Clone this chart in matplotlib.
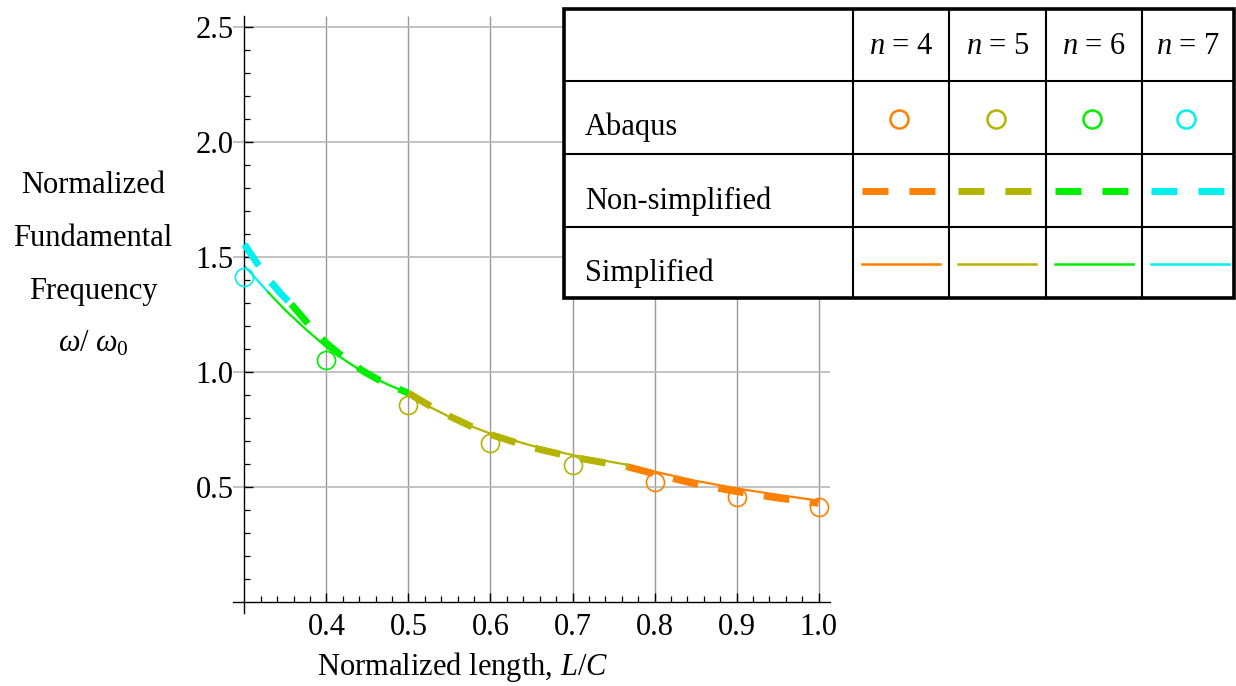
import matplotlib
matplotlib.use('Agg')
import matplotlib.pyplot as plt
from matplotlib.patches import Rectangle

plt.rcParams['font.family'] = ['Liberation Serif', 'DejaVu Serif']
plt.rcParams['mathtext.fontset'] = 'custom'
plt.rcParams['mathtext.rm'] = 'Liberation Serif'
plt.rcParams['mathtext.it'] = 'Liberation Serif:italic'
plt.rcParams['lines.scale_dashes'] = False

# ---------------- data ----------------
modes = [4, 5, 6, 7]
mode_colors = ['#FF8000', '#B3B300', '#00EE00', '#00F0F0']

abaqus_L = [0.3, 0.4, 0.5, 0.6, 0.7, 0.8, 0.9, 1.0]
abaqus_w = [1.414, 1.052, 0.857, 0.690, 0.596, 0.523, 0.455, 0.412]
abaqus_n = [7, 6, 5, 5, 5, 4, 4, 4]

# Simplified model (thin solid), one piece per governing n
simp_L_n7 = [0.300, 0.315, 0.329]
simp_w_n7 = [1.461, 1.402, 1.346]
simp_L_n6 = [0.329, 0.350, 0.375, 0.400, 0.425, 0.450, 0.475, 0.497]
simp_w_n6 = [1.346, 1.268, 1.185, 1.108, 1.045, 0.988, 0.945, 0.912]
simp_L_n5 = [0.497, 0.525, 0.550, 0.575, 0.600, 0.650, 0.700, 0.768]
simp_w_n5 = [0.912, 0.850, 0.805, 0.766, 0.732, 0.680, 0.639, 0.596]
simp_L_n4 = [0.768, 0.800, 0.850, 0.900, 0.950, 1.000]
simp_w_n4 = [0.596, 0.567, 0.527, 0.494, 0.466, 0.441]

# Non-simplified model (thick dashed)
ns_L_n7 = [0.300, 0.315, 0.330, 0.345, 0.357]
ns_w_n7 = [1.555, 1.475, 1.400, 1.338, 1.295]
ns_L_n6 = [0.357, 0.380, 0.400, 0.420, 0.445, 0.470, 0.500]
ns_w_n6 = [1.295, 1.200, 1.125, 1.066, 1.003, 0.953, 0.908]
ns_L_n5 = [0.500, 0.525, 0.550, 0.575, 0.600, 0.650, 0.700, 0.768]
ns_w_n5 = [0.908, 0.855, 0.808, 0.766, 0.728, 0.672, 0.630, 0.587]
ns_L_n4 = [0.768, 0.800, 0.850, 0.900, 0.950, 1.000]
ns_w_n4 = [0.587, 0.557, 0.513, 0.480, 0.452, 0.429]

x_major = [0.4, 0.5, 0.6, 0.7, 0.8, 0.9, 1.0]
x_major_labels = ['0.4', '0.5', '0.6', '0.7', '0.8', '0.9', '1.0']
y_major = [0.5, 1.0, 1.5, 2.0, 2.5]
y_major_labels = ['0.5', '1.0', '1.5', '2.0', '2.5']

row_labels = ['Abaqus', 'Non-simplified', 'Simplified']
ylabel_lines = ['Normalized', 'Fundamental', 'Frequency', r'$\omega/\ \omega_0$']

# ---------------- figure ----------------
W, H = 1236, 686
fig = plt.figure(figsize=(W / 100, H / 100), dpi=100)
ax = fig.add_axes([233 / W, 1 - 613 / H, (830 - 233) / W, (613 - 16) / H])
ax.set_xlim(0.28598, 1.01402)
ax.set_ylim(-0.0478, 2.5478)

color_of = dict(zip(modes, mode_colors))

# grid
ax.vlines(x_major, 0, ax.get_ylim()[1], colors='#999999', lw=1.0, zorder=0)
ax.hlines(y_major, *ax.get_xlim(), colors='#b8b8b8', lw=1.2, zorder=0)

# axes crossing at (0.3, 0)
for s in ['top', 'right']:
    ax.spines[s].set_visible(False)
ax.spines['left'].set_position(('data', 0.3))
ax.spines['bottom'].set_position(('data', 0.0))
for s in ['left', 'bottom']:
    ax.spines[s].set_linewidth(1.0)

ax.set_xticks(x_major)
ax.set_xticklabels(x_major_labels)
ax.set_yticks(y_major)
ax.set_yticklabels(y_major_labels)
ax.set_xticks([round(0.32 + 0.02 * i, 2) for i in range(34) if round(0.32 + 0.02 * i, 2) not in x_major], minor=True)
ax.set_yticks([round(0.1 * i, 1) for i in range(1, 25) if round(0.1 * i, 1) not in y_major], minor=True)
ax.tick_params(which='major', direction='in', length=6.5, width=1.0, labelsize=22, pad=8)
ax.tick_params(which='minor', direction='in', length=4, width=0.9)

# simplified curves
simp = [(simp_L_n7, simp_w_n7, 7), (simp_L_n6, simp_w_n6, 6),
        (simp_L_n5, simp_w_n5, 5), (simp_L_n4, simp_w_n4, 4)]
for L, w, n in simp:
    ax.plot(L, w, color=color_of[n], lw=1.6, zorder=2)

# non-simplified curves
nons = [(ns_L_n7, ns_w_n7, 7), (ns_L_n6, ns_w_n6, 6),
        (ns_L_n5, ns_w_n5, 5), (ns_L_n4, ns_w_n4, 4)]
for L, w, n in nons:
    ax.plot(L, w, color=color_of[n], lw=5, dashes=(18.5, 14.8),
            dash_capstyle='butt', zorder=3)

# Abaqus points
for L, w, n in zip(abaqus_L, abaqus_w, abaqus_n):
    ax.plot([L], [w], 'o', mfc='none', mec=color_of[n], ms=13, mew=1.2,
            zorder=4, clip_on=False)

# axis labels
fig.text(463 / W, 1 - 675 / H, 'Normalized length, $L/C$', ha='center',
         va='baseline', fontsize=22)
for i, t in enumerate(ylabel_lines):
    fig.text(93 / W, 1 - (193 + 53 * i) / H, t, ha='center', va='baseline',
             fontsize=22)

# ---------------- legend table ----------------
tax = fig.add_axes([0, 0, 1, 1], zorder=10)
tax.set_xlim(0, W)
tax.set_ylim(H, 0)
tax.axis('off')

xe = [564, 853, 949, 1046, 1142, 1234]
ye = [9, 81, 154, 227, 298]
tax.add_patch(Rectangle((xe[0], ye[0]), xe[-1] - xe[0], ye[-1] - ye[0],
                        facecolor='white', edgecolor='black', lw=2.6, zorder=1))
for x in xe[1:-1]:
    tax.plot([x, x], [ye[0], ye[-1]], color='black', lw=1.5, zorder=2)
for y in ye[1:-1]:
    tax.plot([xe[0], xe[-1]], [y, y], color='black', lw=1.5, zorder=2)

for j, n in enumerate(modes):
    xl, xr = xe[j + 1], xe[j + 2]
    xc = (xl + xr) / 2
    c = color_of[n]
    tax.text(xc, (ye[0] + ye[1]) / 2 + 2, f'$n$ = {n}', ha='center', va='center',
             fontsize=22, zorder=3)
    tax.plot([xc - 2], [119], 'o', mfc='none', mec=c, ms=13, mew=1.8, zorder=3)
    tax.plot([xl + 9, xl + 82], [191, 191], color=c, lw=5, dashes=(18.7, 15.1),
             dash_capstyle='butt', zorder=3)
    tax.plot([xl + 9, xl + 87], [264, 264], color=c, lw=1.8, zorder=3)

for i, t in enumerate(row_labels):
    yc = (ye[i + 1] + ye[i + 2]) / 2
    tax.text(585, yc + 18, t, ha='left', va='baseline', fontsize=22, zorder=3)

fig.savefig('out.png', dpi=100)
